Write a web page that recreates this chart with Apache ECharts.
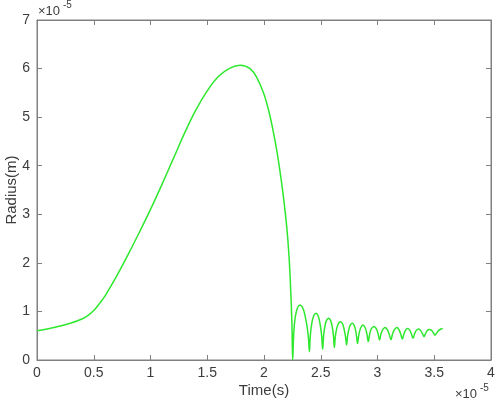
<!DOCTYPE html>
<html>
<head>
<meta charset="utf-8">
<script src="https://cdn.jsdelivr.net/npm/echarts@6/dist/echarts.min.js"></script>
<style>html,body{margin:0;padding:0;background:#fff;}#chart{width:498px;height:399px;}</style>
</head>
<body>
<div id="chart"></div>
<script>
// Time in units of 1e-5 s
const time = [
  0, 0.1, 0.2, 0.3, 0.4, 0.45, 0.5, 0.55, 0.6, 0.7, 0.8, 0.9, 1.0, 1.1, 1.2, 1.3, 1.4, 1.5, 1.6, 1.7, 1.79,
  1.877, 1.94, 2.0, 2.05, 2.1, 2.14, 2.17, 2.20, 2.22, 2.235, 2.246, 2.253,
  2.262, 2.275, 2.295, 2.317, 2.34, 2.36, 2.38, 2.393, 2.40,
  2.408, 2.42, 2.438, 2.458, 2.478, 2.495, 2.508, 2.517,
  2.525, 2.537, 2.55, 2.567, 2.585, 2.6, 2.612, 2.62,
  2.628, 2.64, 2.655, 2.675, 2.693, 2.707, 2.72, 2.727,
  2.737, 2.75, 2.762, 2.778, 2.793, 2.806, 2.817, 2.824,
  2.835, 2.85, 2.872, 2.89, 2.905, 2.919,
  2.93, 2.945, 2.971, 2.99, 3.005, 3.018,
  3.03, 3.045, 3.066, 3.085, 3.103, 3.119,
  3.132, 3.148, 3.170, 3.188, 3.205, 3.219,
  3.232, 3.246, 3.264, 3.282, 3.298, 3.313,
  3.327, 3.342, 3.361, 3.378, 3.395, 3.410,
  3.424, 3.44, 3.458, 3.476, 3.492, 3.506,
  3.52, 3.54, 3.56, 3.575
];
// Radius in units of 1e-5 m
const radius = [
  0.60, 0.645, 0.70, 0.76, 0.85, 0.92, 1.02, 1.16, 1.32, 1.72, 2.16, 2.62, 3.10, 3.61, 4.14, 4.67, 5.15, 5.54, 5.84, 6.01, 6.07,
  6.00, 5.80, 5.47, 5.05, 4.48, 3.90, 3.38, 2.75, 2.15, 1.45, 0.75, 0.00,
  0.55, 0.88, 1.07, 1.13, 1.08, 0.93, 0.68, 0.42, 0.17,
  0.50, 0.74, 0.91, 0.96, 0.90, 0.73, 0.50, 0.22,
  0.50, 0.70, 0.81, 0.86, 0.82, 0.70, 0.50, 0.26,
  0.47, 0.64, 0.75, 0.79, 0.74, 0.62, 0.45, 0.31,
  0.50, 0.65, 0.73, 0.755, 0.72, 0.62, 0.46, 0.34,
  0.51, 0.65, 0.72, 0.67, 0.56, 0.38,
  0.52, 0.64, 0.69, 0.64, 0.54, 0.41,
  0.53, 0.62, 0.67, 0.63, 0.53, 0.42,
  0.53, 0.62, 0.67, 0.63, 0.53, 0.43,
  0.53, 0.61, 0.65, 0.62, 0.54, 0.45,
  0.54, 0.61, 0.64, 0.61, 0.55, 0.48,
  0.55, 0.61, 0.63, 0.61, 0.56, 0.51,
  0.55, 0.61, 0.64, 0.65
];
const xTicks = ['0', '0.5', '1', '1.5', '2', '2.5', '3', '3.5', '4'];
const yTicks = ['0', '1', '2', '3', '4', '5', '6', '7'];

const lineColor = '#808080';
const textColor = '#3c3c3c';
const font = 'Liberation Sans, Arial, sans-serif';

const chart = echarts.init(document.getElementById('chart'), null, {renderer: 'canvas'});
const common = () => ({
  show: true,
  gridIndex: 0,
  axisLine: {show: true, onZero: false, lineStyle: {color: lineColor, width: 1}},
  axisTick: {show: true, inside: true, length: 5, lineStyle: {color: lineColor}},
  splitLine: {show: false}
});
chart.setOption({
  animation: false,
  backgroundColor: '#fff',
  grid: {left: 37, right: 7, top: 20, bottom: 39, containLabel: false, outerBoundsMode: 'none',
    show: true, borderColor: lineColor, borderWidth: 1, backgroundColor: 'transparent'},
  xAxis: [
    Object.assign({
      type: 'value', min: 0, max: 4, interval: 0.5, position: 'bottom',
      name: 'Time(s)', nameLocation: 'middle', nameGap: 23, nameMoveOverlap: false,
      nameTextStyle: {color: textColor, fontSize: 15, fontFamily: font},
      axisLabel: {color: textColor, fontSize: 14, fontFamily: font, margin: 6,
        formatter: (v) => xTicks[Math.round(v / 0.5)]}
    }, common()),
    Object.assign({
      type: 'value', min: 0, max: 4, interval: 0.5, position: 'top',
      axisLabel: {show: false}
    }, common())
  ],
  yAxis: [
    Object.assign({
      type: 'value', min: 0, max: 7, interval: 1, position: 'left',
      name: 'Radius(m)', nameLocation: 'middle', nameGap: 18, nameMoveOverlap: false,
      nameTextStyle: {color: textColor, fontSize: 15, fontFamily: font},
      axisLabel: {color: textColor, fontSize: 14, fontFamily: font, margin: 7,
        formatter: (v) => yTicks[Math.round(v)]}
    }, common()),
    Object.assign({
      type: 'value', min: 0, max: 7, interval: 1, position: 'right',
      axisLabel: {show: false}
    }, common())
  ],
  graphic: [
    {type: 'text', left: 38, top: 5, style: {text: '×10', fill: textColor, fontSize: 13, fontFamily: font}},
    {type: 'text', left: 63, top: 0, style: {text: '-5', fill: textColor, fontSize: 10, fontFamily: font}},
    {type: 'text', left: 455, top: 388, style: {text: '×10', fill: textColor, fontSize: 13, fontFamily: font}},
    {type: 'text', left: 480, top: 383, style: {text: '-5', fill: textColor, fontSize: 10, fontFamily: font}}
  ],
  series: [{
    type: 'line',
    xAxisIndex: 0, yAxisIndex: 0,
    data: time.map((t, i) => [t, radius[i]]),
    showSymbol: false,
    smooth: 0.4,
    lineStyle: {color: '#2ee82e', width: 1.5},
    clip: true
  }]
});
</script>
</body>
</html>
